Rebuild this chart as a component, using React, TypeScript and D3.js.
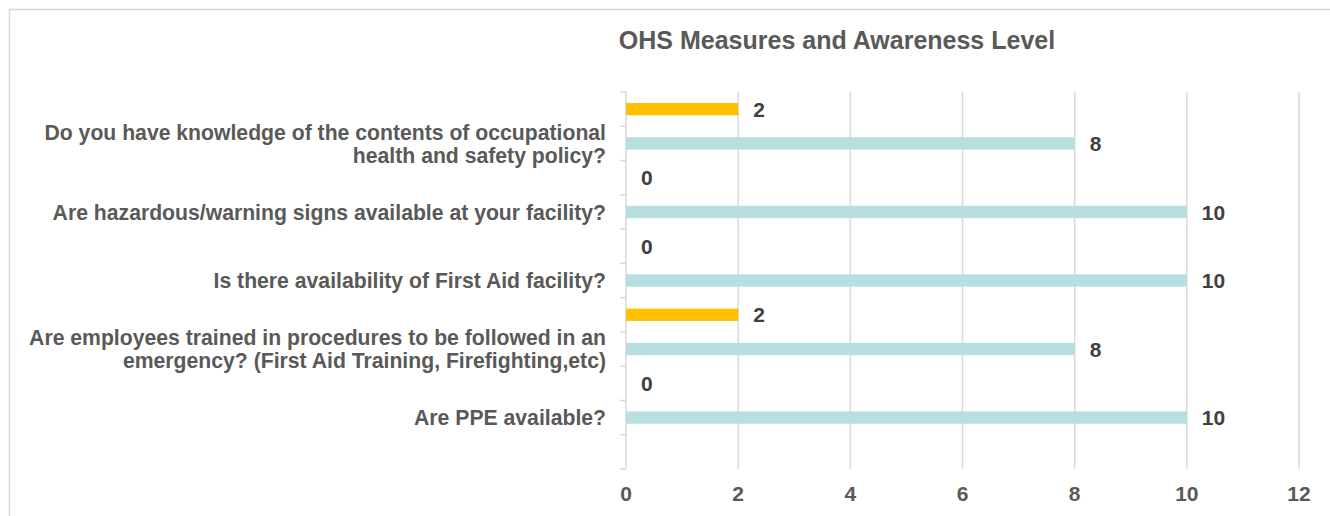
import React, { useEffect, useRef } from 'react';
import * as d3 from 'd3';

// questions listed top to bottom, each one may wrap onto several lines
const questions: string[][] = [
  ['Do you have knowledge of the contents of occupational', 'health and safety policy?'],
  ['Are hazardous/warning signs available at your facility?'],
  ['Is there availability of First Aid facility?'],
  ['Are employees trained in procedures to be followed in an', 'emergency? (First Aid Training, Firefighting,etc)'],
  ['Are PPE available?'],
];
const noValues = [2, 0, 0, 2, 0]; // orange rows
const yesValues = [8, 10, 10, 8, 10]; // blue rows
const xTicks = [0, 2, 4, 6, 8, 10, 12];

type Row = { key: string; value: number | null; series: 'no' | 'yes' | 'none'; label: string[] };

const App: React.FC = () => {
  const svgRef = useRef<SVGSVGElement | null>(null);

  useEffect(() => {
    const svgEl = svgRef.current;
    if (!svgEl) return;

    const width = 1330;
    const height = 516;

    // each question takes two rows (orange then blue), plus an empty row at the bottom
    const rows: Row[] = [];
    questions.forEach((q, i) => {
      rows.push({ key: `n${i}`, value: noValues[i], series: 'no', label: [] });
      rows.push({ key: `y${i}`, value: yesValues[i], series: 'yes', label: q });
    });
    rows.push({ key: 'empty', value: null, series: 'none', label: [] });

    const plot = { left: 626, right: 1299, top: 92, bottom: 469 };
    const x = d3.scaleLinear().domain([0, 12]).range([plot.left, plot.right]);
    const y = d3.scaleBand<string>()
      .domain(rows.map((r) => r.key))
      .range([plot.top, plot.bottom])
      .paddingInner(0.64)
      .paddingOuter(0.32);
    const step = y.step();

    const svg = d3.select(svgEl).attr('width', width).attr('height', height);
    svg.selectAll('*').remove();

    const font = "'Liberation Sans', Arial, sans-serif";

    // outer frame
    svg.append('rect')
      .attr('x', 9.5)
      .attr('y', 9.5)
      .attr('width', 1400)
      .attr('height', 600)
      .attr('fill', '#fff')
      .attr('stroke', '#d9d9d9')
      .attr('stroke-width', 1.5);

    // title
    svg.append('text')
      .attr('x', 837)
      .attr('y', 49)
      .attr('text-anchor', 'middle')
      .attr('font-family', font)
      .attr('font-weight', 'bold')
      .attr('font-size', 25)
      .attr('fill', '#595959')
      .text('OHS Measures and Awareness Level');

    // vertical gridlines
    svg.append('g')
      .selectAll('line')
      .data(xTicks.filter((t) => t > 0))
      .join('line')
      .attr('x1', (d) => x(d))
      .attr('x2', (d) => x(d))
      .attr('y1', plot.top)
      .attr('y2', plot.bottom)
      .attr('stroke', '#d9d9d9')
      .attr('stroke-width', 1.5);

    // category axis with ticks between rows
    const yAxis = svg.append('g');
    yAxis.append('line')
      .attr('x1', plot.left)
      .attr('x2', plot.left)
      .attr('y1', plot.top)
      .attr('y2', plot.bottom)
      .attr('stroke', '#d9d9d9')
      .attr('stroke-width', 1.5);
    yAxis.selectAll('line.tick')
      .data(d3.range(rows.length + 1))
      .join('line')
      .attr('class', 'tick')
      .attr('x1', plot.left - 6)
      .attr('x2', plot.left)
      .attr('y1', (i) => plot.top + i * step)
      .attr('y2', (i) => plot.top + i * step)
      .attr('stroke', '#d9d9d9')
      .attr('stroke-width', 1.5);

    // category labels
    const labels = svg.append('g')
      .selectAll('text')
      .data(rows.filter((r) => r.label.length > 0))
      .join('text')
      .attr('text-anchor', 'end')
      .attr('font-family', font)
      .attr('font-weight', 'bold')
      .attr('font-size', 21.2)
      .attr('fill', '#595959');
    labels.each(function (d) {
      const cy = (y(d.key) as number) + y.bandwidth() / 2;
      const lineH = 23;
      const t = d3.select(this);
      d.label.forEach((line, i) => {
        t.append('tspan')
          .attr('x', 606)
          .attr('y', cy + (i - (d.label.length - 1) / 2) * lineH)
          .attr('dy', '0.36em')
          .text(line);
      });
    });

    // bars
    const barRows = rows.filter((r) => r.value !== null);
    svg.append('g')
      .selectAll('rect')
      .data(barRows)
      .join('rect')
      .attr('x', x(0))
      .attr('y', (d) => y(d.key) as number)
      .attr('width', (d) => x(d.value as number) - x(0))
      .attr('height', y.bandwidth())
      .attr('fill', (d) => (d.series === 'no' ? '#ffc000' : '#b7dee0'));

    // value labels
    svg.append('g')
      .selectAll('text')
      .data(barRows)
      .join('text')
      .attr('x', (d) => x(d.value as number) + 15)
      .attr('y', (d) => (y(d.key) as number) + y.bandwidth() / 2)
      .attr('dy', '0.36em')
      .attr('font-family', font)
      .attr('font-weight', 'bold')
      .attr('font-size', 21)
      .attr('fill', '#404040')
      .text((d) => String(d.value));

    // value axis labels
    svg.append('g')
      .selectAll('text')
      .data(xTicks)
      .join('text')
      .attr('x', (d) => x(d))
      .attr('y', 493)
      .attr('dy', '0.36em')
      .attr('text-anchor', 'middle')
      .attr('font-family', font)
      .attr('font-weight', 'bold')
      .attr('font-size', 21)
      .attr('fill', '#595959')
      .text((d) => String(d));
  }, []);

  return (
    <svg
      ref={svgRef}
      style={{ position: 'absolute', left: 0, top: 0, display: 'block' }}
      role="img"
      aria-label="OHS Measures and Awareness Level"
    />
  );
};

export default App;
